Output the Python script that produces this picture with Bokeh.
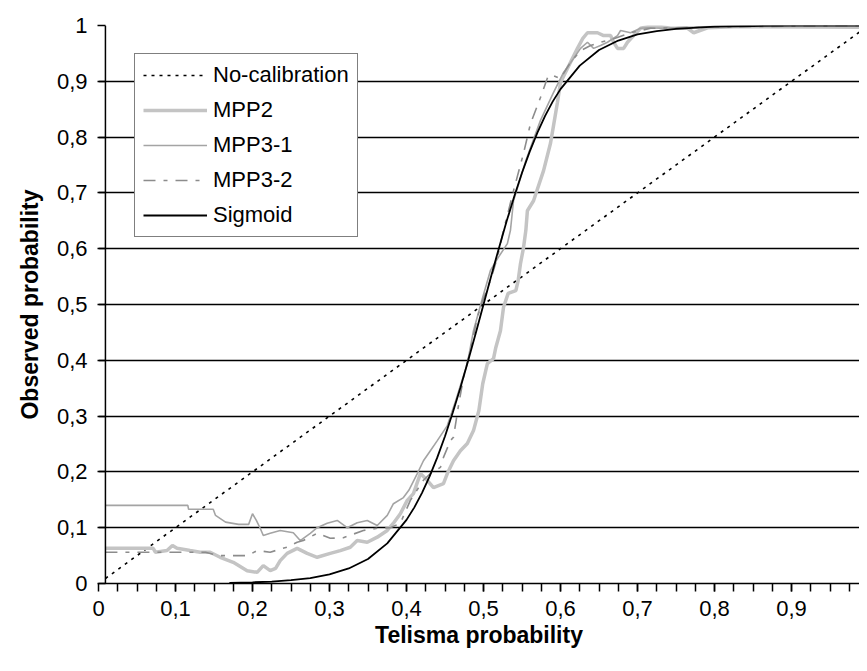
from bokeh.plotting import figure
from bokeh.models import FixedTicker, Legend, LegendItem, Range1d, Span
from bokeh.embed import file_html
from bokeh.resources import INLINE

# ---------------- data ----------------
nocal_x = [0.009, 1.0]
nocal_y = [0.009, 1.0]

mpp2_x = [0.009, 0.071, 0.074, 0.089, 0.096, 0.102, 0.119, 0.132, 0.145, 0.158,
          0.175, 0.193, 0.206, 0.214, 0.223, 0.230, 0.236, 0.245, 0.258, 0.271,
          0.284, 0.301, 0.314, 0.327, 0.336, 0.349, 0.362, 0.375, 0.383, 0.392,
          0.401, 0.409, 0.418, 0.427, 0.435, 0.448, 0.453, 0.461, 0.470, 0.479,
          0.487, 0.494, 0.499, 0.505, 0.513, 0.516, 0.522, 0.526, 0.532, 0.542,
          0.545, 0.548, 0.552, 0.555, 0.557, 0.565, 0.578, 0.587, 0.591, 0.596,
          0.600, 0.613, 0.622, 0.629, 0.635, 0.648, 0.656, 0.665, 0.669, 0.674,
          0.682, 0.687, 0.695, 0.704, 0.721, 0.743, 0.765, 0.773, 0.791, 0.834,
          1.000]
mpp2_y = [0.063, 0.063, 0.056, 0.059, 0.068, 0.063, 0.059, 0.056, 0.056, 0.047,
          0.038, 0.023, 0.020, 0.032, 0.023, 0.027, 0.041, 0.054, 0.063, 0.054,
          0.047, 0.054, 0.059, 0.065, 0.077, 0.074, 0.083, 0.095, 0.108, 0.125,
          0.149, 0.161, 0.197, 0.185, 0.172, 0.179, 0.197, 0.220, 0.238, 0.251,
          0.274, 0.310, 0.358, 0.394, 0.403, 0.423, 0.453, 0.495, 0.520, 0.525,
          0.543, 0.573, 0.602, 0.633, 0.668, 0.686, 0.740, 0.789, 0.821, 0.862,
          0.898, 0.934, 0.959, 0.977, 0.987, 0.987, 0.982, 0.982, 0.970, 0.959,
          0.959, 0.970, 0.982, 0.995, 1.000, 0.995, 0.995, 0.987, 0.996, 0.998,
          0.997]

mpp31_x = [0.009, 0.116, 0.117, 0.149, 0.152, 0.165, 0.182, 0.195, 0.200, 0.205,
           0.210, 0.214, 0.223, 0.236, 0.253, 0.262, 0.275, 0.284, 0.297, 0.310,
           0.323, 0.336, 0.349, 0.362, 0.375, 0.383, 0.396, 0.403, 0.414, 0.422,
           0.431, 0.440, 0.453, 0.464, 0.470, 0.479, 0.487, 0.499, 0.509, 0.519,
           0.531, 0.535, 0.539, 0.555, 0.574, 0.591, 0.604, 0.617, 0.626, 0.635,
           0.643, 0.652, 0.661, 0.674, 0.678, 0.691, 0.704, 0.713, 0.730, 0.834,
           1.000]
mpp31_y = [0.140, 0.140, 0.133, 0.133, 0.122, 0.110, 0.106, 0.106, 0.125, 0.113,
           0.099, 0.086, 0.090, 0.095, 0.091, 0.077, 0.090, 0.100, 0.108, 0.113,
           0.100, 0.109, 0.113, 0.104, 0.122, 0.143, 0.154, 0.167, 0.197, 0.220,
           0.238, 0.256, 0.283, 0.328, 0.355, 0.394, 0.453, 0.513, 0.561, 0.584,
           0.609, 0.633, 0.686, 0.758, 0.830, 0.880, 0.916, 0.941, 0.959, 0.970,
           0.959, 0.964, 0.970, 0.982, 0.991, 0.987, 0.995, 0.996, 0.995, 1.000,
           1.000]

mpp32_x = [0.009, 0.139, 0.155, 0.194, 0.206, 0.223, 0.239, 0.245, 0.258, 0.266,
           0.284, 0.301, 0.318, 0.344, 0.362, 0.379, 0.392, 0.405, 0.422, 0.431,
           0.444, 0.448, 0.457, 0.461, 0.468, 0.474, 0.483, 0.492, 0.499, 0.509,
           0.518, 0.526, 0.539, 0.552, 0.561, 0.574, 0.584, 0.591, 0.600, 0.613,
           0.626, 0.639, 0.652, 0.671, 0.691, 0.717, 0.834, 1.000]
mpp32_y = [0.056, 0.056, 0.050, 0.050, 0.059, 0.056, 0.063, 0.065, 0.074, 0.077,
           0.090, 0.081, 0.082, 0.095, 0.099, 0.100, 0.108, 0.149, 0.185, 0.197,
           0.208, 0.226, 0.256, 0.262, 0.323, 0.369, 0.418, 0.477, 0.507, 0.543,
           0.584, 0.633, 0.704, 0.771, 0.824, 0.871, 0.910, 0.910, 0.905, 0.934,
           0.955, 0.964, 0.970, 0.977, 0.987, 0.995, 0.998, 1.000]

sig_x = [0.17, 0.20, 0.225, 0.25, 0.275, 0.30, 0.325, 0.35, 0.375, 0.40,
         0.41, 0.42, 0.43, 0.44, 0.45, 0.46, 0.47, 0.48, 0.49, 0.50,
         0.51, 0.52, 0.53, 0.54, 0.55, 0.56, 0.57, 0.58, 0.59, 0.60,
         0.625, 0.65, 0.675, 0.70, 0.725, 0.75, 0.80, 0.85, 0.90, 1.00]
sig_y = [0.0012, 0.0021, 0.0035, 0.0059, 0.0098, 0.0163, 0.027, 0.044, 0.072, 0.114,
         0.136, 0.162, 0.192, 0.226, 0.264, 0.306, 0.351, 0.399, 0.449, 0.500,
         0.551, 0.601, 0.649, 0.694, 0.736, 0.774, 0.808, 0.838, 0.864, 0.886,
         0.928, 0.956, 0.973, 0.984, 0.990, 0.994, 0.998, 0.999, 1.000, 1.000]

series_names = ["No-calibration", "MPP2", "MPP3-1", "MPP3-2", "Sigmoid"]

x_ticks = [0.0, 0.1, 0.2, 0.3, 0.4, 0.5, 0.6, 0.7, 0.8, 0.9, 1.0]
x_tick_labels = ["0", "0,1", "0,2", "0,3", "0,4", "0,5", "0,6", "0,7", "0,8", "0,9", "1"]
x_minor_ticks = [round(0.025 * k, 3) for k in range(1, 40)]
y_ticks = [0.0, 0.1, 0.2, 0.3, 0.4, 0.5, 0.6, 0.7, 0.8, 0.9, 1.0]
y_tick_labels = ["0", "0,1", "0,2", "0,3", "0,4", "0,5", "0,6", "0,7", "0,8", "0,9", "1"]
y_axis_cross = 0.009   # value axis crosses the category axis at the first category

x_title = "Telisma probability"
y_title = "Observed probability"

# ---------------- figure ----------------
FONT = "Liberation Sans"
FS = "22px"
TFS = "23px"

p = figure(width=859, height=655, x_range=Range1d(0.0, 0.9883), y_range=Range1d(0, 1),
           output_backend="svg", toolbar_location=None,
           min_border_left=98, min_border_right=0, min_border_top=25, min_border_bottom=72)
p.outline_line_color = None
p.background_fill_color = "white"
p.border_fill_color = "white"

r0 = p.line(nocal_x, nocal_y, line_color="black", line_width=1.6, line_dash="3 5")
r1 = p.line(mpp2_x, mpp2_y, line_color="#c4c4c4", line_width=3.5)
r2 = p.line(mpp31_x, mpp31_y, line_color="#a4a4a4", line_width=1.6)
r3 = p.line(mpp32_x, mpp32_y, line_color="#8c8c8c", line_width=1.6, line_dash="12 8 4 8")
r4 = p.line(sig_x, sig_y, line_color="black", line_width=1.8)

# axes
p.xaxis.ticker = FixedTicker(ticks=x_ticks, minor_ticks=x_minor_ticks)
p.xaxis.major_label_overrides = dict(zip(x_ticks, x_tick_labels))
p.yaxis.ticker = FixedTicker(ticks=y_ticks, minor_ticks=[])
p.yaxis.major_label_overrides = dict(zip(y_ticks, y_tick_labels))

for ax in (p.xaxis, p.yaxis):
    ax.axis_line_color = "black"
    ax.axis_line_width = 1.5
    ax.major_tick_line_color = "black"
    ax.major_tick_line_width = 1.5
    ax.major_label_text_font = FONT
    ax.major_label_text_font_size = FS
    ax.major_label_text_color = "black"
    ax.axis_label_text_font = FONT
    ax.axis_label_text_font_size = TFS
    ax.axis_label_text_font_style = "bold"
    ax.axis_label_text_color = "black"

p.xaxis.major_tick_in = 0
p.xaxis.major_tick_out = 8
p.xaxis.minor_tick_line_color = "black"
p.xaxis.minor_tick_line_width = 1.5
p.xaxis.minor_tick_in = 0
p.xaxis.minor_tick_out = 8
p.xaxis.major_label_standoff = 9
p.xaxis.axis_label = x_title
p.xaxis.axis_label_standoff = 3

# y axis: its line is drawn at the crossing point, ticks reach back to the frame edge
p.yaxis.axis_line_color = None
p.yaxis.major_tick_in = 7
p.yaxis.major_tick_out = 1
p.yaxis.minor_tick_line_color = None
p.yaxis.major_label_standoff = 10
p.yaxis.axis_label = y_title
p.yaxis.axis_label_standoff = 11
p.add_layout(Span(location=y_axis_cross, dimension="height",
                  line_color="black", line_width=1.5))

p.xgrid.grid_line_color = None
p.ygrid.ticker = FixedTicker(ticks=y_ticks)
p.ygrid.grid_line_color = "black"
p.ygrid.grid_line_width = 1.3

legend = Legend(items=[LegendItem(label=n, renderers=[r]) for n, r in
                       zip(series_names, [r0, r1, r2, r3, r4])],
                location=(36, 346), padding=8, spacing=9,
                glyph_width=64, glyph_height=26, label_height=26, label_standoff=6,
                label_text_font=FONT, label_text_font_size=FS, label_text_color="black",
                border_line_color="black", border_line_width=1.3,
                background_fill_color="white", background_fill_alpha=1.0)
p.add_layout(legend)

open("out.html", "w").write(file_html(p, INLINE))
